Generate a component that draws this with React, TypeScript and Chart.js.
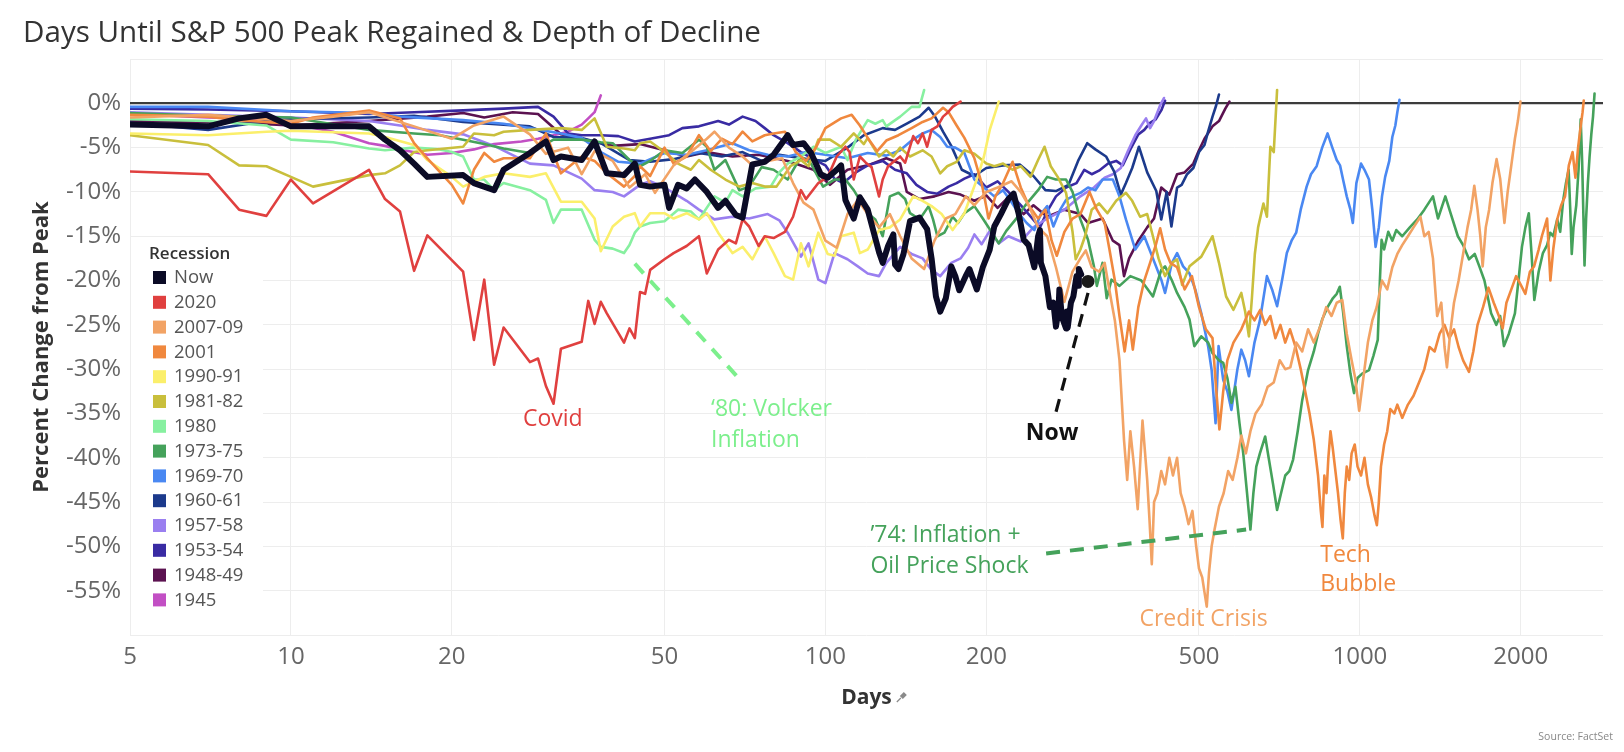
import React, { useEffect, useRef } from 'react';
import { Chart, registerables } from 'chart.js';

Chart.register(...registerables);

type P = [number, number];

const xTickValues = [5, 10, 20, 50, 100, 200, 500, 1000, 2000];
const yGridValues = [5, 0, -5, -10, -15, -20, -25, -30, -35, -40, -45, -50, -55, -60];

const sNow: P[] = [[5,-2.4],[7,-2.6],[8,-1.7],[9,-1.3],[10,-2.6],[12,-2.6],[14,-2.6],[15,-4.1],[16,-5.3],[17,-6.8],[18,-8.3],[21,-8.1],[22,-9.0],[24,-9.8],[25,-7.5],[28,-5.6],[30,-4.3],[31,-6.4],[32,-6.0],[35,-6.4],[37,-4.3],[39,-7.9],[42,-8.1],[44,-6.8],[45,-9.2],[47,-9.4],[50,-9.2],[51,-11.8],[53,-9.2],[55,-9.6],[57,-8.6],[60,-10.0],[63,-11.8],[65,-11.0],[68,-12.6],[70,-12.9],[73,-6.9],[77,-6.6],[80,-5.8],[85,-3.6],[87,-4.7],[91,-4.5],[94,-5.6],[98,-8.0],[101,-8.4],[105,-7.5],[107,-7.0],[109,-10.9],[113,-13.0],[116,-10.6],[120,-12.0],[126,-16.8],[128,-18.0],[131,-16.1],[134,-14.8],[135,-18.2],[137,-18.7],[140,-17.0],[144,-13.3],[150,-12.9],[155,-14.2],[158,-17.5],[161,-21.8],[164,-23.5],[168,-22.0],[172,-18.4],[175,-19.5],[178,-21.1],[183,-19.5],[186,-18.7],[192,-21.0],[197,-18.5],[203,-16.5],[207,-13.9],[213,-12.5],[220,-10.8],[225,-10.2],[230,-12.5],[235,-15.4],[240,-16.0],[246,-18.5],[250,-15.0],[252,-14.3],[253,-18.0],[258,-19.5],[263,-23.0],[267,-22.5],[270,-25.2],[273,-23.3],[274,-21.0],[277,-24.1],[282,-25.4],[283,-23.5],[284,-25.3],[288,-22.5],[291,-21.8],[295,-19.5],[297,-20.6],[298,-18.7],[301,-19.3]];

const s2020: P[] = [[5,-7.7],[7,-8.0],[8,-12.0],[9,-12.7],[10,-8.6],[11,-11.3],[14,-7.5],[15,-10.8],[16,-12.2],[17,-18.9],[18,-14.9],[21,-19.0],[22,-26.7],[23,-19.9],[24,-29.5],[25,-25.3],[28,-29.2],[29,-28.8],[30,-31.9],[31,-33.9],[32,-27.7],[35,-26.9],[36,-22.3],[37,-24.9],[38,-22.4],[39,-23.7],[42,-27.0],[43,-25.4],[44,-26.5],[45,-21.3],[46,-21.5],[47,-18.8],[50,-17.6],[52,-16.9],[55,-16.1],[58,-15.0],[60,-19.2],[63,-16.5],[66,-15.4],[68,-15.8],[70,-13.1],[72,-13.9],[75,-16.1],[77,-15.0],[80,-15.2],[84,-14.5],[87,-12.8],[90,-9.8],[92,-10.8],[97,-9.0],[101,-8.3],[105,-6.0],[109,-4.9],[111,-5.5],[113,-8.6],[116,-6.0],[119,-6.7],[122,-7.2],[126,-10.5],[128,-8.6],[131,-7.1],[138,-6.0],[141,-6.7],[146,-3.7],[149,-4.5],[152,-3.4],[155,-4.9],[158,-3.0],[162,-2.6],[166,-1.5],[169,-1.1],[173,-0.4],[179,0.2]];

const s2007: P[] = [[5,-1.6],[7,-1.3],[10,-2.0],[12,-1.5],[14,-1.0],[17,-2.6],[20,-4.0],[22,-2.5],[25,-1.5],[28,-3.5],[30,-5.7],[33,-5.0],[35,-8.0],[37,-5.4],[40,-6.5],[43,-9.5],[46,-8.0],[48,-10.1],[52,-7.0],[56,-5.5],[60,-4.0],[62,-3.2],[66,-5.0],[70,-6.0],[73,-7.0],[78,-6.5],[83,-6.2],[87,-9.0],[91,-11.2],[95,-12.0],[100,-15.5],[105,-16.3],[110,-12.5],[115,-10.9],[120,-12.5],[126,-14.0],[132,-12.5],[138,-15.0],[145,-17.5],[153,-18.7],[160,-15.5],[168,-13.0],[175,-12.5],[183,-10.5],[190,-11.5],[200,-10.0],[210,-9.5],[223,-8.8],[232,-10.0],[240,-11.5],[250,-14.0],[260,-15.0],[270,-18.5],[280,-22.4],[290,-19.0],[300,-17.5],[307,-16.6],[315,-18.5],[325,-19.0],[333,-18.0],[342,-22.0],[348,-24.5],[355,-29.0],[362,-38.0],[367,-42.5],[372,-37.0],[378,-41.0],[384,-45.8],[392,-35.8],[400,-42.5],[404,-47.0],[408,-52.0],[412,-45.0],[418,-44.0],[425,-41.5],[432,-43.0],[440,-40.0],[447,-42.0],[455,-40.0],[462,-44.0],[470,-45.5],[478,-47.5],[486,-46.0],[494,-50.0],[500,-52.5],[507,-53.5],[513,-55.5],[517,-56.8],[522,-53.0],[528,-50.0],[535,-48.0],[545,-45.5],[556,-44.0],[567,-41.5],[578,-42.5],[590,-40.0],[600,-37.5],[612,-39.5],[624,-37.0],[638,-35.0],[655,-34.0],[672,-32.0],[690,-31.5],[708,-29.0],[725,-30.0],[741,-29.8],[760,-27.0],[780,-28.0],[800,-25.5],[820,-27.0],[845,-25.0],[865,-23.0],[885,-24.0],[905,-22.5],[927,-22.2],[945,-26.0],[965,-29.0],[980,-31.0],[997,-34.7],[1015,-31.0],[1035,-27.0],[1055,-24.5],[1075,-23.0],[1100,-20.0],[1125,-21.0],[1150,-18.5],[1175,-17.0],[1200,-16.0],[1230,-15.0],[1260,-14.0],[1298,-12.8],[1320,-15.0],[1345,-14.5],[1370,-17.5],[1395,-24.0],[1420,-22.5],[1440,-27.5],[1455,-29.8],[1475,-26.0],[1500,-22.5],[1530,-20.0],[1560,-17.0],[1590,-14.0],[1615,-12.0],[1637,-9.3],[1660,-12.0],[1680,-15.0],[1697,-18.4],[1720,-14.0],[1745,-12.0],[1770,-9.0],[1802,-6.3],[1830,-8.5],[1864,-13.5],[1890,-10.0],[1920,-7.0],[1950,-4.0],[1975,-2.0],[1997,0.2]];

const s2001: P[] = [[5,-1.3],[7,-1.5],[8,-1.9],[10,-2.3],[11,-1.6],[14,-0.8],[16,-1.7],[17,-4.5],[18,-6.2],[20,-9.2],[21,-11.3],[22,-7.5],[23,-5.6],[24,-6.6],[25,-6.2],[28,-6.2],[30,-3.4],[32,-7.9],[35,-6.0],[37,-6.5],[39,-7.9],[42,-9.4],[44,-8.2],[45,-7.1],[47,-8.2],[50,-5.0],[52,-6.8],[55,-6.0],[58,-3.6],[61,-5.4],[64,-4.0],[67,-4.6],[70,-3.2],[73,-4.3],[77,-3.6],[80,-3.4],[84,-3.2],[88,-5.5],[92,-6.5],[96,-5.0],[100,-2.8],[107,-1.7],[112,-1.3],[116,-2.5],[120,-3.9],[125,-5.4],[130,-4.2],[137,-3.6],[145,-2.8],[152,-2.1],[158,-1.7],[166,-0.5],[170,-1.0],[176,-2.5],[182,-3.9],[190,-6.2],[196,-9.0],[202,-13.0],[208,-10.5],[215,-9.0],[224,-6.6],[232,-9.5],[240,-11.5],[250,-13.0],[258,-12.0],[265,-15.5],[271,-17.2],[280,-14.5],[290,-13.0],[300,-12.5],[312,-10.0],[322,-12.0],[333,-13.5],[340,-16.5],[348,-20.0],[355,-24.0],[363,-28.0],[370,-24.5],[376,-27.8],[385,-23.0],[395,-20.0],[405,-18.0],[415,-16.0],[423,-14.1],[432,-16.5],[442,-18.0],[455,-18.5],[470,-21.0],[485,-19.5],[500,-23.0],[515,-25.5],[530,-26.5],[538,-32.0],[546,-36.8],[555,-32.5],[565,-29.0],[580,-27.0],[600,-25.5],[620,-23.5],[635,-24.5],[651,-23.3],[665,-25.0],[680,-24.0],[695,-26.5],[710,-25.0],[725,-27.0],[740,-25.5],[758,-27.5],[775,-30.0],[790,-32.5],[805,-35.0],[820,-38.0],[835,-42.0],[845,-46.0],[851,-47.8],[858,-42.0],[866,-44.0],[873,-40.0],[881,-37.0],[890,-39.0],[900,-41.5],[910,-44.0],[920,-47.0],[929,-49.1],[937,-44.0],[945,-41.0],[955,-42.5],[965,-39.5],[978,-38.5],[990,-41.0],[1005,-42.0],[1020,-40.0],[1035,-43.0],[1050,-44.5],[1065,-46.5],[1076,-47.6],[1085,-45.0],[1095,-41.0],[1110,-38.5],[1125,-37.0],[1140,-34.5],[1160,-35.0],[1175,-34.0],[1200,-35.5],[1230,-34.0],[1260,-33.0],[1290,-31.5],[1320,-30.0],[1350,-27.5],[1380,-28.0],[1410,-26.0],[1440,-25.0],[1470,-26.5],[1500,-25.5],[1530,-27.5],[1560,-29.0],[1600,-30.3],[1630,-28.0],[1660,-25.0],[1700,-23.0],[1740,-20.8],[1780,-22.5],[1820,-24.0],[1850,-25.4],[1880,-22.5],[1920,-21.0],[1960,-19.5],[2000,-20.5],[2040,-21.5],[2080,-19.0],[2118,-18.4],[2160,-16.5],[2190,-15.0],[2240,-13.0],[2272,-20.0],[2300,-16.5],[2340,-13.1],[2380,-11.5],[2420,-10.5],[2460,-7.0],[2500,-5.5],[2531,-8.4],[2560,-5.0],[2590,-2.5],[2610,-1.0],[2623,0.3]];

const s1990: P[] = [[5,-3.4],[7,-3.6],[9,-3.2],[10,-3.1],[14,-3.4],[15,-3.8],[17,-4.7],[18,-6.4],[20,-8.3],[21,-9.4],[23,-8.3],[25,-7.9],[28,-8.3],[30,-7.9],[32,-11.1],[35,-11.1],[37,-13.0],[38,-16.7],[40,-13.9],[42,-12.8],[44,-12.4],[45,-13.9],[47,-12.4],[50,-12.4],[52,-13.0],[55,-12.4],[58,-13.1],[60,-12.4],[63,-14.6],[67,-16.9],[70,-16.2],[73,-17.6],[77,-15.0],[80,-16.9],[84,-19.5],[87,-19.9],[90,-15.8],[93,-18.4],[97,-14.6],[101,-17.0],[104,-17.2],[107,-15.0],[113,-14.6],[116,-16.9],[120,-16.5],[126,-14.3],[132,-14.0],[138,-13.1],[146,-10.5],[152,-11.0],[158,-11.6],[165,-12.5],[173,-14.3],[182,-12.4],[192,-8.6],[198,-6.0],[203,-3.0],[208,-1.0],[211,0.2]];

const s1981: P[] = [[5,-3.6],[7,-4.7],[8,-7.0],[9,-7.1],[10,-8.3],[11,-9.4],[14,-8.1],[15,-7.9],[16,-7.0],[17,-5.5],[18,-5.3],[21,-4.9],[22,-3.4],[24,-3.6],[25,-3.2],[28,-3.0],[32,-2.8],[35,-3.0],[37,-1.7],[39,-4.9],[42,-5.1],[44,-5.3],[45,-4.5],[47,-4.3],[50,-5.5],[53,-6.8],[56,-7.5],[58,-6.4],[61,-7.5],[65,-8.6],[69,-9.4],[73,-9.0],[77,-9.4],[81,-9.4],[86,-7.1],[90,-6.4],[93,-7.1],[97,-4.1],[102,-4.1],[107,-4.9],[113,-3.4],[118,-4.6],[120,-3.9],[126,-6.0],[130,-5.3],[134,-6.0],[138,-5.0],[144,-6.0],[152,-5.3],[158,-6.0],[164,-7.9],[169,-7.1],[176,-6.6],[182,-5.3],[190,-5.7],[200,-6.8],[207,-7.1],[215,-6.8],[224,-7.5],[232,-7.1],[242,-8.3],[250,-6.4],[257,-4.9],[264,-7.1],[272,-8.3],[282,-10.1],[290,-14.5],[294,-17.6],[300,-16.5],[306,-15.0],[315,-12.0],[325,-11.3],[337,-12.4],[350,-11.0],[365,-10.1],[375,-11.0],[388,-12.8],[400,-12.5],[410,-15.0],[420,-17.5],[425,-18.4],[432,-19.5],[445,-18.0],[455,-17.6],[465,-20.5],[480,-18.4],[505,-17.3],[530,-15.0],[545,-18.0],[562,-21.8],[580,-23.3],[600,-21.4],[610,-23.5],[620,-26.3],[628,-22.0],[636,-17.0],[645,-14.0],[660,-11.3],[670,-12.8],[680,-4.9],[690,-5.5],[700,1.5]];

const s1980: P[] = [[5,-1.8],[7,-2.0],[9,-2.5],[10,-4.1],[12,-4.4],[14,-5.1],[15,-5.3],[17,-5.0],[19,-5.2],[20,-5.5],[21,-6.0],[22,-8.6],[23,-8.6],[24,-9.8],[25,-9.0],[28,-9.8],[30,-10.9],[31,-13.5],[32,-12.0],[35,-12.0],[37,-15.4],[38,-16.2],[40,-16.4],[42,-16.9],[43,-16.0],[44,-14.6],[45,-13.9],[47,-13.5],[50,-13.3],[53,-12.0],[56,-12.2],[58,-13.1],[62,-10.5],[65,-11.2],[67,-9.8],[70,-10.5],[74,-9.6],[79,-9.4],[82,-7.8],[85,-6.8],[90,-6.0],[95,-4.9],[100,-5.6],[107,-4.9],[110,-6.4],[114,-4.1],[120,-1.9],[124,-2.3],[128,-1.9],[130,-2.6],[138,-1.5],[145,-0.4],[150,-0.4],[153,1.5]];

const s1973: P[] = [[5,-1.1],[7,-1.4],[10,-1.6],[14,-3.0],[17,-3.4],[19,-3.6],[21,-4.1],[23,-4.6],[25,-5.1],[28,-5.6],[31,-4.1],[35,-4.1],[38,-4.4],[40,-4.5],[43,-6.4],[45,-7.1],[47,-6.5],[50,-5.3],[54,-5.6],[58,-4.1],[60,-4.9],[62,-7.5],[65,-6.4],[69,-9.8],[72,-9.4],[76,-7.2],[80,-7.5],[85,-8.6],[90,-6.0],[94,-6.8],[99,-9.4],[104,-8.6],[109,-8.6],[113,-9.8],[120,-12.4],[124,-13.1],[128,-15.0],[132,-10.5],[137,-10.1],[141,-10.8],[144,-12.4],[150,-13.1],[156,-11.6],[159,-13.1],[162,-15.0],[167,-14.6],[173,-12.8],[177,-13.5],[182,-12.4],[190,-11.6],[197,-13.0],[207,-15.0],[211,-15.8],[218,-14.4],[227,-13.1],[236,-11.6],[250,-9.8],[260,-8.3],[270,-8.6],[282,-8.6],[290,-10.0],[300,-13.1],[310,-15.4],[318,-18.4],[322,-20.6],[330,-18.0],[336,-22.0],[343,-19.9],[355,-20.6],[372,-19.5],[390,-20.0],[410,-21.8],[425,-18.8],[432,-18.4],[445,-20.0],[455,-21.4],[470,-23.0],[480,-24.4],[490,-27.4],[505,-26.3],[520,-27.0],[530,-28.2],[545,-29.0],[555,-29.3],[565,-31.0],[575,-33.8],[585,-32.0],[595,-36.0],[605,-39.5],[615,-44.0],[624,-48.1],[632,-44.0],[640,-41.0],[650,-39.5],[665,-37.6],[675,-40.0],[688,-43.0],[700,-45.9],[712,-44.0],[725,-42.0],[738,-41.5],[750,-40.2],[765,-37.0],[780,-33.5],[800,-30.1],[820,-28.0],[835,-26.0],[850,-24.4],[870,-23.0],[890,-22.0],[905,-21.5],[917,-20.7],[930,-23.5],[945,-27.4],[960,-30.5],[975,-32.7],[990,-31.0],[1010,-30.5],[1040,-30.1],[1060,-28.5],[1080,-26.7],[1090,-20.0],[1098,-15.4],[1110,-16.5],[1130,-14.5],[1150,-15.5],[1170,-14.3],[1200,-15.0],[1240,-14.0],[1280,-13.1],[1320,-12.0],[1370,-10.5],[1400,-13.0],[1445,-10.5],[1480,-12.5],[1525,-15.0],[1560,-16.0],[1600,-17.6],[1640,-17.0],[1673,-18.4],[1710,-20.0],[1760,-23.7],[1800,-25.0],[1830,-24.0],[1860,-27.4],[1900,-26.0],[1950,-23.7],[1980,-20.0],[2010,-16.2],[2040,-14.0],[2070,-12.4],[2095,-17.0],[2120,-22.2],[2160,-19.0],[2200,-16.9],[2240,-16.0],[2270,-14.6],[2300,-15.0],[2340,-13.1],[2370,-14.5],[2400,-11.0],[2430,-9.0],[2458,-7.5],[2475,-12.0],[2491,-17.0],[2510,-14.0],[2540,-11.5],[2565,-7.5],[2589,-1.8],[2605,-6.5],[2620,-13.0],[2632,-18.3],[2650,-13.0],[2670,-9.0],[2690,-6.0],[2710,-3.5],[2730,-1.5],[2748,1.1]];

const s1969: P[] = [[5,-0.4],[7,-0.4],[10,-0.9],[14,-1.1],[16,-1.5],[21,-1.9],[25,-2.3],[28,-2.8],[32,-3.4],[35,-3.9],[38,-5.5],[41,-6.6],[45,-6.8],[50,-5.6],[55,-5.8],[60,-5.3],[67,-4.5],[72,-5.3],[78,-5.8],[85,-6.0],[92,-5.5],[100,-5.8],[110,-6.2],[120,-5.6],[130,-5.9],[138,-5.3],[145,-4.2],[152,-3.4],[158,-3.0],[164,-3.8],[169,-4.9],[175,-5.0],[182,-5.6],[190,-8.6],[198,-9.5],[207,-10.5],[215,-9.8],[222,-11.0],[230,-12.4],[238,-13.5],[246,-14.3],[253,-12.5],[260,-11.6],[267,-13.9],[275,-12.0],[282,-10.9],[290,-10.5],[300,-10.1],[310,-9.5],[320,-9.8],[330,-8.6],[345,-8.6],[355,-10.5],[365,-13.1],[380,-16.5],[395,-15.0],[410,-17.5],[425,-19.9],[432,-21.4],[445,-18.0],[455,-16.9],[467,-18.4],[480,-19.2],[492,-21.0],[505,-23.7],[520,-27.4],[528,-30.1],[537,-36.1],[544,-27.4],[555,-31.2],[565,-32.5],[575,-34.6],[590,-30.0],[600,-27.8],[610,-29.0],[620,-30.8],[635,-27.0],[650,-24.5],[670,-19.5],[685,-21.0],[700,-22.9],[715,-20.0],[730,-16.9],[745,-15.5],[760,-14.6],[775,-12.0],[795,-9.4],[810,-8.0],[830,-7.1],[850,-5.0],[870,-3.4],[888,-5.0],[905,-6.4],[918,-7.0],[930,-8.6],[945,-10.5],[960,-12.0],[970,-13.5],[985,-9.0],[1005,-6.8],[1020,-7.5],[1040,-8.6],[1055,-12.0],[1070,-16.2],[1085,-14.0],[1100,-10.5],[1115,-8.3],[1135,-6.5],[1150,-3.8],[1165,-2.5],[1175,-1.0],[1186,0.4]];

const s1960: P[] = [[5,-2.2],[7,-3.0],[9,-2.0],[10,-1.8],[14,-1.6],[17,-1.4],[21,-2.1],[25,-2.4],[28,-2.6],[31,-3.8],[35,-3.9],[38,-4.5],[43,-6.4],[47,-6.6],[52,-6.3],[58,-5.6],[64,-6.0],[70,-5.5],[76,-6.5],[82,-5.8],[90,-6.2],[100,-6.5],[110,-5.0],[118,-3.6],[128,-2.8],[135,-3.0],[142,-2.3],[150,-1.5],[156,-0.5],[160,-1.4],[166,-3.2],[172,-4.8],[180,-7.5],[190,-8.2],[200,-7.3],[215,-7.0],[231,-6.9],[245,-8.2],[258,-9.8],[270,-9.9],[285,-9.2],[297,-6.5],[309,-4.5],[320,-5.2],[335,-6.0],[347,-7.7],[357,-10.3],[365,-9.0],[375,-7.3],[386,-4.9],[400,-7.8],[416,-9.9],[425,-13.1],[435,-10.0],[444,-13.9],[455,-9.5],[464,-9.2],[475,-8.0],[488,-7.3],[500,-5.5],[512,-4.7],[520,-3.2],[530,-1.5],[538,-0.3],[545,1.0]];

const s1957: P[] = [[5,-1.0],[7,-1.3],[10,-1.6],[14,-2.0],[16,-2.5],[18,-3.0],[21,-3.5],[24,-4.8],[28,-6.8],[31,-7.0],[35,-8.5],[37,-9.8],[40,-10.0],[42,-10.5],[45,-9.2],[47,-8.8],[50,-9.5],[55,-11.0],[58,-12.0],[62,-13.1],[67,-12.8],[72,-13.0],[78,-12.5],[82,-13.2],[85,-14.6],[90,-17.3],[93,-15.8],[97,-19.9],[100,-20.3],[104,-16.9],[110,-17.6],[115,-18.4],[120,-19.2],[126,-19.5],[130,-18.0],[138,-16.2],[145,-17.0],[152,-17.5],[158,-18.8],[164,-19.5],[172,-18.0],[179,-17.5],[185,-16.3],[190,-14.8],[196,-15.9],[203,-14.4],[211,-15.8],[220,-15.0],[232,-15.6],[245,-14.0],[260,-13.0],[280,-12.0],[300,-10.5],[318,-9.5],[333,-8.4],[345,-8.0],[357,-7.3],[368,-5.4],[380,-3.6],[390,-2.5],[398,-1.7],[405,-2.8],[412,-2.0],[423,-0.2],[430,0.6]];

const s1953: P[] = [[5,-0.6],[7,-0.7],[10,-0.9],[14,-1.2],[17,-1.0],[21,-0.8],[25,-0.6],[29,-0.4],[31,-1.5],[33,-3.4],[35,-3.6],[38,-3.6],[41,-3.7],[44,-4.3],[47,-4.0],[51,-3.6],[54,-2.8],[58,-2.6],[63,-2.0],[66,-2.4],[70,-1.5],[74,-2.0],[77,-2.8],[80,-3.6],[85,-4.5],[90,-5.5],[95,-6.3],[100,-7.0],[104,-8.5],[108,-9.0],[114,-7.8],[120,-7.0],[128,-6.5],[135,-7.5],[142,-7.9],[148,-9.2],[155,-10.0],[162,-10.2],[170,-9.4],[176,-9.0],[182,-8.5],[190,-8.0],[200,-9.5],[210,-8.8],[220,-10.0],[232,-11.5],[244,-13.0],[252,-14.0],[260,-12.2],[270,-10.5],[282,-9.5],[295,-9.0],[305,-7.5],[315,-8.0],[325,-7.6],[338,-6.8],[350,-6.5],[360,-7.0],[372,-5.2],[385,-3.5],[395,-3.0],[405,-2.2],[415,-1.8],[425,-0.8],[432,0.3]];

const s1948: P[] = [[5,-2.0],[8,-2.2],[10,-2.5],[14,-2.0],[18,-1.5],[21,-1.1],[23,-1.6],[26,-1.0],[29,-1.2],[32,-3.5],[35,-4.0],[40,-4.8],[45,-4.6],[50,-5.3],[55,-6.0],[60,-5.5],[67,-6.0],[75,-5.8],[85,-6.5],[95,-7.5],[102,-9.2],[110,-7.5],[120,-7.0],[130,-6.2],[138,-6.8],[142,-10.0],[150,-10.8],[160,-10.5],[170,-10.0],[179,-10.3],[190,-11.0],[200,-10.4],[210,-11.8],[220,-10.6],[235,-12.5],[245,-11.5],[260,-12.8],[280,-12.0],[300,-12.5],[310,-13.5],[330,-13.0],[345,-15.5],[355,-16.0],[362,-19.5],[370,-17.5],[385,-15.5],[400,-14.0],[412,-13.0],[425,-9.5],[440,-10.3],[455,-8.0],[470,-7.8],[488,-6.8],[500,-5.3],[512,-4.0],[530,-2.6],[545,-2.0],[560,-0.6],[570,0.2]];

const s1945: P[] = [[5,-1.2],[7,-1.6],[9,-1.8],[10,-2.3],[12,-3.2],[14,-4.5],[15,-4.8],[16,-5.2],[18,-5.8],[20,-5.6],[22,-5.2],[24,-4.6],[27,-4.3],[29,-4.0],[31,-3.6],[33,-3.2],[35,-2.4],[36,-1.7],[37,-1.0],[38,0.9]];

const recessionLabels = ['Now','2020','2007-09','2001','1990-91','1981-82','1980','1973-75','1969-70','1960-61','1957-58','1953-54','1948-49','1945'];
const recessionSeries = [sNow, s2020, s2007, s2001, s1990, s1981, s1980, s1973, s1969, s1960, s1957, s1953, s1948, s1945];
const recessionColors = ['#0b0b26','#e0403f','#f2a365','#f0883e','#fbef6b','#c9bf3c','#87f0a0','#45a25b','#4a88f2','#1c3a8c','#9a7ff0','#392ba3','#5b1250','#c24fc4'];

// annotation pointers (day, % change)
const nowDot: P[] = [[310,-20.1]];
const nowPointer: P[] = [[310,-21.4],[269,-35.2]];
const volckerPointer: P[] = [[44.0,-18.1],[69.5,-31.3]];
const oilPointer: P[] = [[258.8,-50.8],[612.6,-48.1]];

type Note = { text: string; x: number; y: number; color: string; align: CanvasTextAlign; bold?: boolean };
const notes: Note[] = [
  { text: 'Covid', x: 30.9, y: -35.7, color: '#e0403f', align: 'center' },
  { text: '\u201880: Volcker', x: 61.1, y: -34.5, color: '#7cef8c', align: 'left' },
  { text: 'Inflation', x: 61.1, y: -38.1, color: '#7cef8c', align: 'left' },
  { text: 'Now', x: 265.5, y: -37.2, color: '#111111', align: 'center', bold: true },
  { text: '\u201974: Inflation +', x: 121.4, y: -48.8, color: '#45a25b', align: 'left' },
  { text: 'Oil Price Shock', x: 121.4, y: -52.3, color: '#45a25b', align: 'left' },
  { text: 'Credit Crisis', x: 510, y: -58.2, color: '#f2a365', align: 'center' },
  { text: 'Tech', x: 843, y: -51.0, color: '#f0883e', align: 'left' },
  { text: 'Bubble', x: 843, y: -54.3, color: '#f0883e', align: 'left' },
];

const FONT = '"Open Sans", "Noto Sans", sans-serif';
const toXY = (arr: P[]) => arr.map(([x, y]) => ({ x, y }));

const overlayPlugin = {
  id: 'overlay',
  beforeDatasetsDraw(chart: any) {
    const { ctx } = chart;
    ctx.save();
    ctx.fillStyle = '#ffffff';
    ctx.fillRect(131, 238, 132, 388);
    ctx.textBaseline = 'middle';
    ctx.textAlign = 'left';
    ctx.fillStyle = '#333333';
    ctx.font = `600 17px ${FONT}`;
    ctx.fillText('Recession', 149, 254);
    ctx.font = `18.5px ${FONT}`;
    recessionLabels.forEach((lab, i) => {
      const y = 277.5 + i * 24.8;
      ctx.fillStyle = recessionColors[i];
      ctx.fillRect(153, y - 6.5, 13, 13);
      ctx.fillStyle = '#555555';
      ctx.fillText(lab, 174, y + 0.5);
    });
    ctx.restore();
  },
  afterDatasetsDraw(chart: any) {
    const { ctx, scales, chartArea } = chart;
    const xs = scales.x;
    const ys = scales.y;
    ctx.save();
    ctx.textBaseline = 'middle';
    notes.forEach((n) => {
      ctx.font = `${n.bold ? 'bold ' : ''}23px ${FONT}`;
      ctx.fillStyle = n.color;
      ctx.textAlign = n.align;
      ctx.fillText(n.text, xs.getPixelForValue(n.x), ys.getPixelForValue(n.y));
    });
    ctx.font = `10.5px ${FONT}`;
    ctx.fillStyle = '#888888';
    ctx.textAlign = 'right';
    ctx.fillText('Source: FactSet', 1613, 737);
    ctx.font = `bold 21px ${FONT}`;
    const w = ctx.measureText('Days').width;
    const cx = (chartArea.left + chartArea.right) / 2 + w / 2 + 9;
    const cy = 697;
    ctx.strokeStyle = '#8a8a8a';
    ctx.fillStyle = '#8a8a8a';
    ctx.lineWidth = 1.3;
    ctx.beginPath();
    ctx.moveTo(cx - 4, cy + 5);
    ctx.lineTo(cx, cy + 1);
    ctx.stroke();
    ctx.beginPath();
    ctx.moveTo(cx - 1, cy - 1);
    ctx.lineTo(cx + 3, cy - 5);
    ctx.lineTo(cx + 6, cy - 2);
    ctx.lineTo(cx + 2, cy + 2);
    ctx.closePath();
    ctx.fill();
    ctx.restore();
  },
};

export default function App() {
  const canvasRef = useRef<HTMLCanvasElement | null>(null);

  useEffect(() => {
    const canvas = canvasRef.current;
    if (!canvas) return;
    Chart.defaults.font.family = FONT;

    const datasets: any[] = [
      { label: 'nowDot', data: toXY(nowDot), showLine: false, pointRadius: 6.5, pointBackgroundColor: '#1c1c1c', pointBorderWidth: 0, borderColor: '#1c1c1c' },
      { label: 'nowPointer', data: toXY(nowPointer), borderColor: '#111111', borderWidth: 3.2, borderDash: [13, 9], pointRadius: 0, borderCapStyle: 'butt' },
      { label: 'volckerPointer', data: toXY(volckerPointer), borderColor: '#7cef8c', borderWidth: 4, borderDash: [13, 10], pointRadius: 0 },
      { label: 'oilPointer', data: toXY(oilPointer), borderColor: '#45a25b', borderWidth: 4, borderDash: [14, 10], pointRadius: 0 },
      ...recessionSeries.map((s, i) => ({
        label: recessionLabels[i],
        data: toXY(s),
        borderColor: recessionColors[i],
        backgroundColor: recessionColors[i],
        borderWidth: i === 0 ? 6 : 2.6,
        pointRadius: 0,
        tension: 0,
        borderJoinStyle: 'round',
        borderCapStyle: 'round',
      })),
    ];

    const chart = new Chart(canvas, {
      type: 'line',
      data: { datasets },
      options: {
        animation: false,
        responsive: false,
        devicePixelRatio: 1,
        layout: { padding: { left: 23, right: 21, top: 0, bottom: 0 } },
        plugins: {
          legend: { display: false },
          tooltip: { enabled: false },
          title: {
            display: true,
            text: 'Days Until S&P 500 Peak Regained & Depth of Decline',
            align: 'start',
            color: '#333333',
            font: { size: 29.6, weight: 'normal', family: FONT },
            padding: { top: 15.5, bottom: 8 },
          },
        },
        scales: {
          x: {
            type: 'logarithmic',
            min: 5,
            max: 2850,
            afterBuildTicks: (s: any) => { s.ticks = xTickValues.map((v) => ({ value: v })); },
            afterFit: (s: any) => { s.height = 117; },
            ticks: {
              autoSkip: false,
              maxRotation: 0,
              padding: 8,
              color: '#666666',
              font: { size: 24 },
              callback: (v: any) => String(v),
            },
            grid: { color: '#ededed', drawTicks: false },
            border: { display: false },
            title: {
              display: true,
              text: 'Days',
              color: '#333333',
              font: { size: 21, weight: 'bold' },
              padding: { top: 0, bottom: 41 },
            },
          },
          y: {
            type: 'linear',
            min: -60,
            max: 5,
            afterBuildTicks: (s: any) => { s.ticks = yGridValues.map((v) => ({ value: v })); },
            afterFit: (s: any) => { s.width = 107; },
            ticks: {
              padding: 9,
              color: '#666666',
              font: { size: 24 },
              callback: (v: any) => (v > 0 || v < -55 ? '' : `${v}%`),
            },
            grid: {
              color: (c: any) => (c.tick && c.tick.value === 0 ? '#3c3c3c' : '#ededed'),
              lineWidth: (c: any) => (c.tick && c.tick.value === 0 ? 2.2 : 1),
              drawTicks: false,
            },
            border: { display: false },
            title: {
              display: true,
              text: 'Percent Change from Peak',
              color: '#333333',
              font: { size: 22, weight: 'bold' },
              padding: { top: 6, bottom: 0 },
            },
          },
        },
      },
      plugins: [overlayPlugin],
    } as any);

    return () => chart.destroy();
  }, []);

  return (
    <div style={{ position: 'absolute', left: 0, top: 0, width: 1624, height: 752, background: '#ffffff' }}>
      <canvas ref={canvasRef} width={1624} height={752} style={{ display: 'block', width: 1624, height: 752 }} />
    </div>
  );
}
